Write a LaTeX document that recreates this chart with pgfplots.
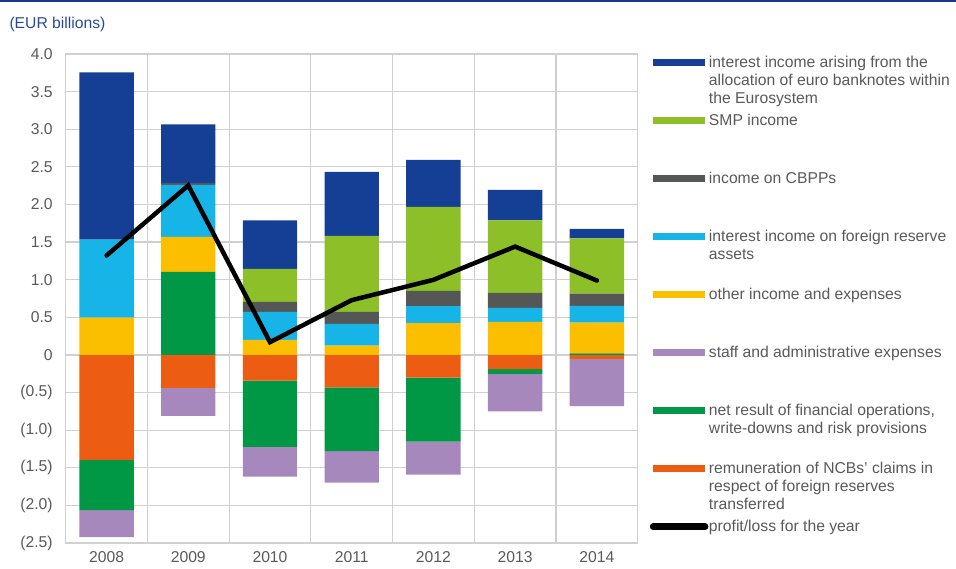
\documentclass[border=0pt]{standalone}
\usepackage{pgfplots}
\pgfplotsset{compat=1.18}
\usepackage{fontspec}
\setmainfont{Liberation Sans}
\definecolor{cBank}{RGB}{20,63,148}
\definecolor{cSMP}{RGB}{141,192,40}
\definecolor{cCBPP}{RGB}{85,87,87}
\definecolor{cFX}{RGB}{23,180,232}
\definecolor{cOther}{RGB}{252,191,0}
\definecolor{cStaff}{RGB}{166,136,188}
\definecolor{cNet}{RGB}{0,152,68}
\definecolor{cRem}{RGB}{236,93,19}
\definecolor{cGrid}{RGB}{208,208,208}
\definecolor{cText}{RGB}{89,89,89}
\definecolor{cTitle}{RGB}{40,75,155}
\definecolor{cRule}{RGB}{25,55,140}
\newcommand{\lt}[1]{\parbox[t]{250pt}{\raggedright\strut #1\strut}}
\pgfplotsset{
  base/.style={
    scale only axis, width=572pt, height=489pt,
    at={(65.7pt,25pt)}, anchor=south west,
    xmin=-0.5, xmax=6.5, ymin=-2.5, ymax=4,
  },
  bars/.style={ybar stacked, bar width=54.4pt},
}
\begin{document}
\begin{tikzpicture}[font=\fontsize{15.7}{18.3}\selectfont]
\useasboundingbox (0,0) rectangle (956pt,568pt);
\draw[cRule, line width=2pt] (0,567pt) -- (956pt,567pt);
\node[anchor=base west, text=cTitle, inner sep=0pt] at (9.3pt,539.7pt) {(EUR billions)};
% axis 1: grid, labels, negative contributions
\begin{axis}[base, bars,
  axis line style={cGrid, line width=1.2pt},
  grid style={cGrid, line width=1.2pt},
  ymajorgrids, xminorgrids,
  xtick={0,1,2,3,4,5,6},
  xticklabels={2008,2009,2010,2011,2012,2013,2014},
  minor xtick={0.5,1.5,2.5,3.5,4.5,5.5},
  ytick={-2.5,-2,-1.5,-1,-0.5,0,0.5,1,1.5,2,2.5,3,3.5,4},
  yticklabels={(2.5),(2.0),(1.5),(1.0),(0.5),0,0.5,1.0,1.5,2.0,2.5,3.0,3.5,4.0},
  major tick length=0pt, minor tick length=0pt,
  tick label style={text=cText},
  yticklabel style={xshift=-9.5pt},
  xticklabel style={yshift=-5pt},
]
% remuneration of NCBs' claims
\addplot[fill=cRem, draw=none] coordinates {(0,-1.395) (1,-0.439) (2,-0.341) (3,-0.430) (4,-0.301) (5,-0.190) (6,-0.053)};
% net result of financial operations (negative part)
\addplot[fill=cNet, draw=none] coordinates {(0,-0.669) (1,0) (2,-0.882) (3,-0.850) (4,-0.851) (5,-0.062) (6,0)};
% staff and administrative expenses
\addplot[fill=cStaff, draw=none] coordinates {(0,-0.359) (1,-0.372) (2,-0.394) (3,-0.417) (4,-0.438) (5,-0.497) (6,-0.629)};
\end{axis}
% axis 2: positive contributions
\begin{axis}[base, bars, hide axis]
\addplot[fill=cNet, draw=none] coordinates {(0,0) (1,1.103) (2,0) (3,0) (4,0) (5,0) (6,0.020)};
\addplot[fill=cOther, draw=none] coordinates {(0,0.496) (1,0.465) (2,0.199) (3,0.124) (4,0.421) (5,0.439) (6,0.410)};
\addplot[fill=cFX, draw=none] coordinates {(0,1.036) (1,0.691) (2,0.372) (3,0.288) (4,0.226) (5,0.186) (6,0.221)};
\addplot[fill=cCBPP, draw=none] coordinates {(0,0) (1,0.027) (2,0.133) (3,0.159) (4,0.203) (5,0.199) (6,0.164)};
\addplot[fill=cSMP, draw=none] coordinates {(0,0) (1,0) (2,0.439) (3,1.010) (4,1.117) (5,0.965) (6,0.735)};
\addplot[fill=cBank, draw=none] coordinates {(0,2.225) (1,0.780) (2,0.647) (3,0.851) (4,0.624) (5,0.404) (6,0.124)};
\end{axis}
% axis 3: profit line and legend
\begin{axis}[base, hide axis,
  legend image code/.code={\draw[line width=7pt,#1] (0pt,4.6pt) -- (51.7pt,4.6pt);},
  legend style={draw=none, fill=none, at={(1,1)}, anchor=north west, xshift=12.05pt,
    inner sep=0pt, outer sep=0pt, row sep=2.1pt, column sep=0pt,
    cells={anchor=base west}, nodes={inner sep=0.5pt, text depth=, text height=, text=cText}},
]
\addlegendimage{color=cBank}
\addlegendentry{\lt{interest income arising from the\\allocation of euro banknotes within\\the Eurosystem}}
\addlegendimage{color=cSMP}
\addlegendentry{\lt{SMP income\\~\\~}}
\addlegendimage{color=cCBPP}
\addlegendentry{\lt{income on CBPPs\\~\\~}}
\addlegendimage{color=cFX}
\addlegendentry{\lt{interest income on foreign reserve\\assets\\~}}
\addlegendimage{color=cOther}
\addlegendentry{\lt{other income and expenses\\~\\~}}
\addlegendimage{color=cStaff}
\addlegendentry{\lt{staff and administrative expenses\\~\\~}}
\addlegendimage{color=cNet}
\addlegendentry{\lt{net result of financial operations,\\write-downs and risk provisions\\~}}
\addlegendimage{color=cRem}
\addlegendentry{\lt{remuneration of NCBs' claims in\\respect of foreign reserves\\transferred}}
\addlegendimage{color=black, line width=4.5pt, line cap=round}
\addlegendentry{\lt{profit/loss for the year}}
\addplot[black, line width=4.5pt, line cap=round, mark=none, forget plot] coordinates {(0,1.322) (1,2.253) (2,0.170) (3,0.728) (4,0.998) (5,1.440) (6,0.989)};
\end{axis}
\end{tikzpicture}
\end{document}
